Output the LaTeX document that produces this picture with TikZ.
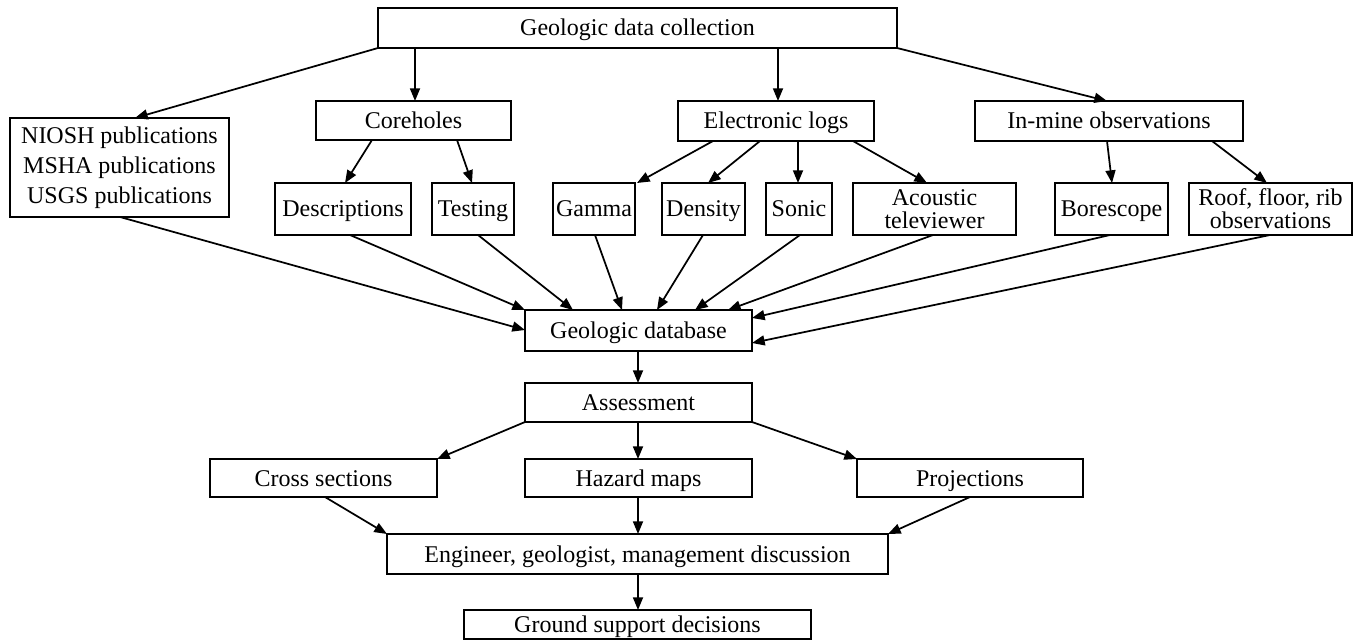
\documentclass[tikz,border=0pt]{standalone}
\usepackage{fontspec}
\setmainfont{Liberation Serif}
\usetikzlibrary{calc,arrows.meta}
\begin{document}
\begin{tikzpicture}[x=0.75pt,y=-0.75pt,
  box/.style={draw,line width=1.3pt,inner sep=0pt,outer sep=0pt,align=center,font=\fontsize{18}{17.5}\selectfont},
  one/.style={box,text height=12pt,text depth=0pt},
  arr/.style={line width=1.3pt,-{Triangle[length=9.5pt,width=7.5pt]}}]
\useasboundingbox (0,0) rectangle (1360,641);
\node[one,minimum width=389.25pt,minimum height=30pt] (top) at (637.5,28) {Geologic data collection};
\node[box,minimum width=164.25pt,minimum height=74.25pt,font=\fontsize{18}{22.5}\selectfont] (niosh) at (119.5,167.5) {NIOSH publications\\MSHA publications\\USGS publications};
\node[one,minimum width=146.25pt,minimum height=29.25pt] (core) at (413.5,120.5) {Coreholes};
\node[one,minimum width=102pt,minimum height=39pt] (desc) at (343,209) {Descriptions};
\node[one,minimum width=61.5pt,minimum height=39pt] (test) at (473,209) {Testing};
\node[one,minimum width=147pt,minimum height=30pt] (elog) at (776,121) {Electronic logs};
\node[one,minimum width=61.5pt,minimum height=39pt] (gamma) at (594,209) {Gamma};
\node[one,minimum width=62.25pt,minimum height=39pt] (dens) at (703.5,209) {Density};
\node[one,minimum width=49.5pt,minimum height=39pt] (sonic) at (799,209) {Sonic};
\node[box,minimum width=122.25pt,minimum height=39pt] (acou) at (934.5,209) {Acoustic\\televiewer};
\node[one,minimum width=201pt,minimum height=30pt] (inmine) at (1109,121) {In-mine observations};
\node[one,minimum width=84.75pt,minimum height=39pt] (bore) at (1111.5,209) {Borescope};
\node[box,minimum width=122.25pt,minimum height=39pt] (roof) at (1270.5,209) {Roof, floor, rib\\observations};
\node[one,minimum width=170.25pt,minimum height=30.75pt] (db) at (638.5,330.5) {Geologic database};
\node[one,minimum width=170.25pt,minimum height=29.25pt] (assess) at (638.5,402.5) {Assessment};
\node[one,minimum width=170.25pt,minimum height=28.5pt] (cross) at (323.5,478) {Cross sections};
\node[one,minimum width=170.25pt,minimum height=28.5pt] (hazard) at (638.5,478) {Hazard maps};
\node[one,minimum width=169.5pt,minimum height=28.5pt] (proj) at (970,478) {Projections};
\node[one,minimum width=375.75pt,minimum height=30pt] (eng) at (637.5,554) {Engineer, geologist, management discussion};
\node[one,minimum width=260.25pt,minimum height=21.75pt] (ground) at (637.5,624.5) {Ground support decisions};

\draw[arr] (top.south west) -- ($(niosh.north west)+(125,0)$);
\draw[arr] ($(top.south west)+(37,0)$) -- ($(core.north west)+(99,0)$);
\draw[arr] ($(top.south west)+(400,0)$) -- ($(elog.north west)+(100,0)$);
\draw[arr] (top.south east) -- ($(inmine.north west)+(132,0)$);
\draw[arr] ($(core.south west)+(56,0)$) -- ($(desc.north west)+(70,0)$);
\draw[arr] ($(core.south west)+(141,0)$) -- ($(test.north west)+(40,0)$);
\draw[arr] ($(elog.south west)+(35,0)$) -- ($(gamma.north east)+(2,0)$);
\draw[arr] ($(elog.south west)+(82,0)$) -- ($(dens.north west)+(46,0)$);
\draw[arr] ($(elog.south west)+(120,0)$) -- ($(sonic.north west)+(32,0)$);
\draw[arr] ($(elog.south west)+(175,0)$) -- ($(acou.north west)+(74,0)$);
\draw[arr] ($(inmine.south west)+(132,0)$) -- ($(bore.north west)+(57,0)$);
\draw[arr] ($(inmine.south west)+(237,0)$) -- ($(roof.north west)+(78,0)$);
\draw[arr] ($(niosh.south west)+(110,0)$) -- ($(db.north west)+(0,20)$);
\draw[arr] ($(desc.south west)+(75,0)$) -- (db.north west);
\draw[arr] ($(test.south west)+(46,0)$) -- ($(db.north west)+(48,0)$);
\draw[arr] ($(gamma.south west)+(42,0)$) -- ($(db.north west)+(97,0)$);
\draw[arr] ($(dens.south west)+(41,0)$) -- ($(db.north west)+(132,0)$);
\draw[arr] ($(sonic.south west)+(34,0)$) -- ($(db.north west)+(170,0)$);
\draw[arr] ($(acou.south west)+(80,0)$) -- ($(db.north west)+(203,0)$);
\draw[arr] ($(bore.south west)+(55,0)$) -- ($(db.north east)+(0,8)$);
\draw[arr] ($(roof.south west)+(81,0)$) -- ($(db.north east)+(0,33)$);
\draw[arr] ($(db.south west)+(113,0)$) -- ($(assess.north west)+(113,0)$);
\draw[arr] (assess.south west) -- (cross.north east);
\draw[arr] ($(assess.south west)+(113,0)$) -- ($(hazard.north west)+(113,0)$);
\draw[arr] (assess.south east) -- (proj.north west);
\draw[arr] ($(cross.south west)+(115,0)$) -- (eng.north west);
\draw[arr] ($(hazard.south west)+(113,0)$) -- ($(eng.north west)+(251,0)$);
\draw[arr] ($(proj.south west)+(113,0)$) -- (eng.north east);
\draw[arr] ($(eng.south west)+(251,0)$) -- ($(ground.north west)+(174,0)$);
\end{tikzpicture}
\end{document}
